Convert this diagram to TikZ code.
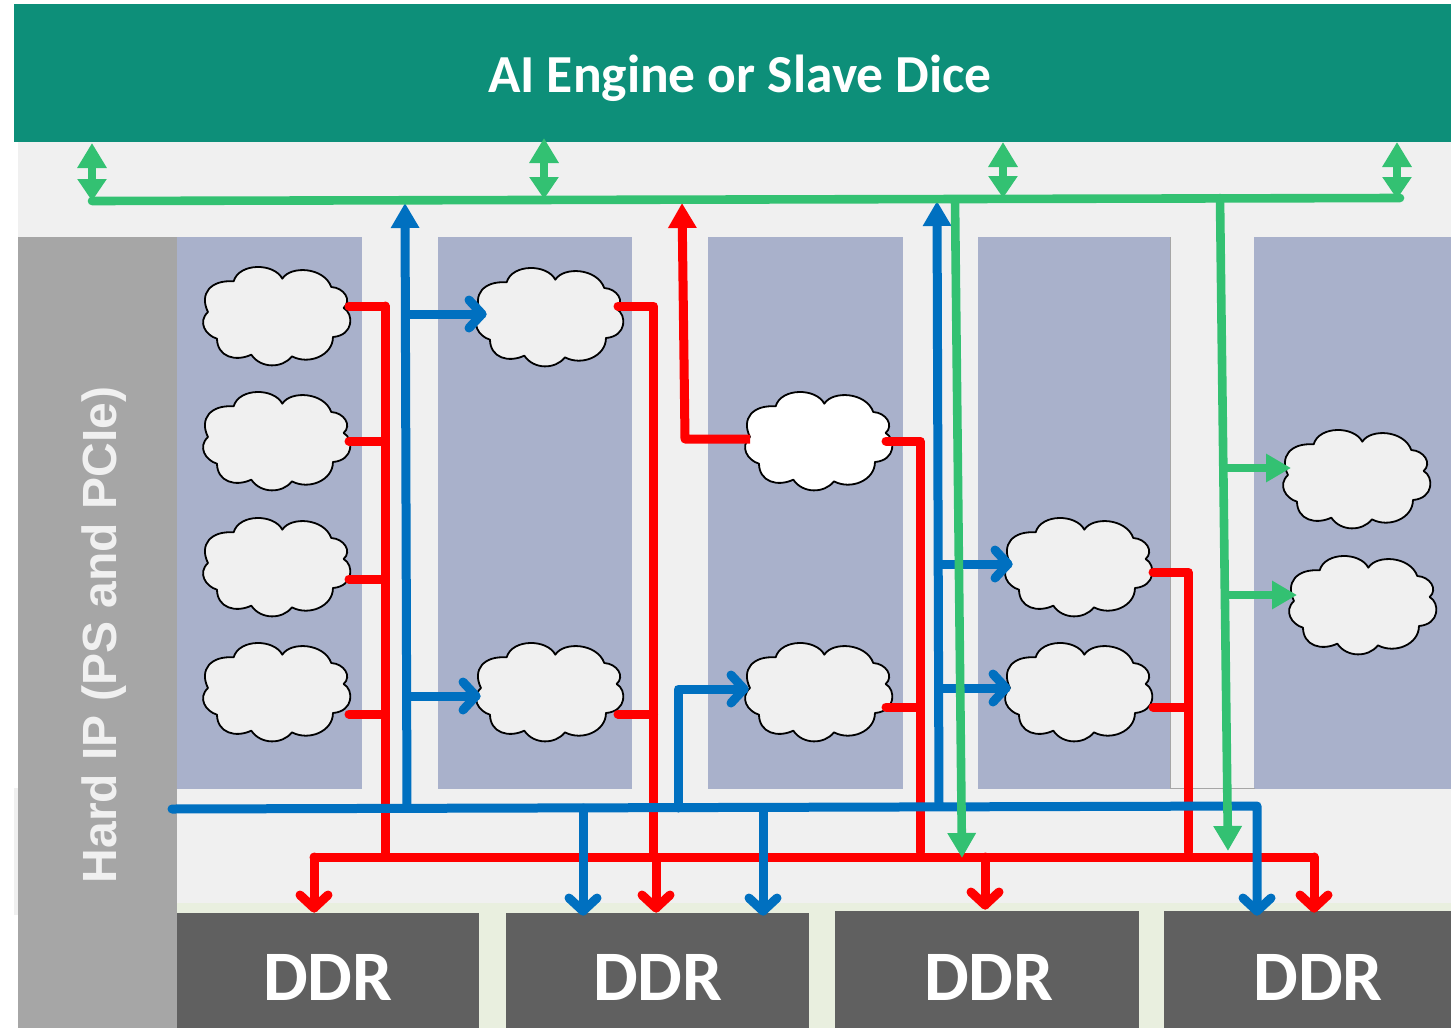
\documentclass[tikz,border=0pt]{standalone}
\usepackage{fontspec}
\setmainfont{Carlito}
\newfontfamily\hardfont{Liberation Sans}
\usetikzlibrary{arrows.meta}
\definecolor{cTeal}{HTML}{0D8F79}
\definecolor{cBg}{HTML}{F0F0F0}
\definecolor{cGray}{HTML}{A6A6A6}
\definecolor{cPanel}{HTML}{A9B1CB}
\definecolor{cDdr}{HTML}{606060}
\definecolor{cPale}{HTML}{E9EFDF}
\definecolor{cRed}{HTML}{FF0000}
\definecolor{cBlue}{HTML}{0070C0}
\definecolor{cGreen}{HTML}{33C172}
\tikzset{
  x=1pt,y=-1pt,
  wire/.style={line width=9pt,line cap=round,line join=round},
  redw/.style={wire,draw=cRed},
  bluew/.style={wire,draw=cBlue},
  greenw/.style={wire,line width=8.6pt,draw=cGreen},
  tri/.style={-{Triangle[length=25pt,width=27pt]}},
  dtri/.style={{Triangle[length=25pt,width=28pt]}-{Triangle[length=22pt,width=28pt]},line width=8pt,draw=cGreen},
  panel/.style={fill=cPanel,draw=none},
  ddrbox/.style={fill=cDdr,draw=none,inner sep=0pt},
  ddrtext/.style={text=white,font=\fontsize{71}{71}\selectfont\bfseries},
}
% open arrowhead: tip coordinate, direction, style
\newcommand{\chev}[3]{\draw[#3,shift={(#1)},rotate=#2] (-13,-14) -- (0,0) -- (-13,14);}
% name, left, top, fill
\newcommand{\cloudAt}[4]{%
  \begin{scope}[shift={(#2-0.7,#3)},scale=1/3]
    \draw[line width=1.8pt,fill=#4,line join=round]
      (94,43) .. controls (110,-13) and (215,-13) .. (240,35)
      .. controls (265,-5) and (365,0) .. (387,60)
      .. controls (425,62) and (450,100) .. (424,123)
      .. controls (455,140) and (455,205) .. (392,210)
      .. controls (392,265) and (320,295) .. (269,268)
      .. controls (240,305) and (175,305) .. (147,263)
      .. controls (100,285) and (45,270) .. (44,215)
      .. controls (10,205) and (-15,165) .. (17,135)
      .. controls (-10,80) and (25,38) .. (94,43) -- cycle;
  \end{scope}%
  \node[minimum width=148pt,minimum height=99pt,inner sep=0pt] (#1) at (#2+74,#3+49) {};%
}
\begin{document}
\begin{tikzpicture}
\useasboundingbox (0,0) rectangle (1451,1028);
\fill[white] (0,0) rectangle (1451,1028);
% backgrounds
\fill[cBg] (18,142) rectangle (1451,905);
\fill[cBg] (14,788) rectangle (18,915);
\fill[cPale] (177,903) rectangle (1451,1028);
\fill[cGray] (18,237) rectangle (177,1028);
\fill[panel] (177,237) rectangle (362,789);
\fill[panel] (438,237) rectangle (632,789);
\fill[panel] (708,237) rectangle (903,789);
\fill[panel] (978,237) rectangle (1170,789);
\fill[panel] (1254,237) rectangle (1451,789);
\draw[line width=1.2pt,draw=black!35] (1170.5,237) -- (1170.5,788.5) -- (1255,788.5);
% title and boxes
\node[fill=cTeal,inner sep=0pt,minimum width=1437pt,minimum height=138pt,anchor=north west] (top) at (14,4) {};
\node[text=white,font=\fontsize{53.5}{54}\selectfont\bfseries] (title) at (740,78) {AI Engine or Slave Dice};
\node[rotate=90,text=cBg,font=\hardfont\fontsize{48}{48}\selectfont\bfseries] (hard) at (104,635) {Hard IP (PS and PCIe)};
\node[ddrbox,minimum width=302pt,minimum height=115pt,anchor=north west] (d1) at (177,913) {};
\node[ddrbox,minimum width=303pt,minimum height=115pt,anchor=north west] (d2) at (506,913) {};
\node[ddrbox,minimum width=304pt,minimum height=117pt,anchor=north west] (d3) at (835,911) {};
\node[ddrbox,minimum width=287pt,minimum height=117pt,anchor=north west] (d4) at (1164,911) {};
\node[ddrtext] (t1) at (328,977) {DDR};
\node[ddrtext] (t2) at (658,977) {DDR};
\node[ddrtext] (t3) at (989,977) {DDR};
\node[ddrtext] (t4) at (1318,977) {DDR};
% clouds
\cloudAt{c11}{203}{267}{cBg}
\cloudAt{c12}{203}{392}{cBg}
\cloudAt{c13}{203}{518}{cBg}
\cloudAt{c14}{203}{643}{cBg}
\cloudAt{c21}{476}{268}{cBg}
\cloudAt{c22}{476}{643}{cBg}
\cloudAt{c31}{745}{392}{white}
\cloudAt{c32}{745}{643}{cBg}
\cloudAt{c41}{1005}{518}{cBg}
\cloudAt{c42}{1005}{643}{cBg}
\cloudAt{c51}{1283}{430}{cBg}
\cloudAt{c52}{1289}{556}{cBg}
% named connector points
\foreach \n/\x/\y in {
  r11/349/306,r12/349/441,r13/349/579,r14/349/714,
  j11/385/306,j12/385/441,j13/385/579,j14/385/714,j15/385/857,
  r21/618/306,r22/618/714,j21/653.5/306,j22/653.5/714,j23/653.5/857,j24/656/857,
  r31/886/441,r32/886/707,j31/920/441,j32/920/707,j33/920/852,
  r41/1153/572,r42/1153/707,j41/1188/572,j42/1188/707,j43/1188/852,
  bl/314/857,br/1314/857,bm/985/857,
  e1/314/908,e2/656/908,e3/985/905,e4/1314/908,
  r33/750/439,j34/685/439,up1/682/203,
  bb0/172/809,bb1/407/807,bb2/583/808,bb3/678/808,bb4/763/808,bb5/939/806,bb6/1257/806,
  ub1/405/203,ub2/937/201,
  b11/407/314,b12/407/696,p11/482/314,p12/476/696,
  b21/939/564,b22/939/688,p21/1008/564,p22/1006/688,
  p31/678/689,p32/744/689,
  eb1/583/911,eb2/763/911,eb3/1257/911,
  g0/92/201,g1/544/200,g2/955/200,g3/1003/199,g4/1220/198,g5/1400/198,
  g2e/962/858,g4e/1228/851,
  gb1/1227/468,gb2/1228/595,gp1/1291/468,gp2/1297/595,
  a0/92/143,a1/544/138,a2/1003/142,a3/1397/142,
  a0e/92/201,a1e/544/199,a2e/1003/198,a3e/1397/199}
  {\coordinate (\n) at (\x,\y);}
% red
\draw[redw] (j11) -- (j15);
\draw[redw] (r11) -- (j11);
\draw[redw] (r12) -- (j12);
\draw[redw] (r13) -- (j13);
\draw[redw] (r14) -- (j14);
\draw[redw] (bl) -- (e1); \chev{e1}{-90}{redw}
\draw[redw] (bl) -- (br);
\draw[redw] (br) -- (e4); \chev{e4}{-90}{redw}
\draw[redw] (bm) -- (e3); \chev{e3}{-90}{redw}
\draw[redw] (r21) -- (j21) -- (j23);
\draw[redw] (j24) -- (e2); \chev{e2}{-90}{redw}
\draw[redw] (r22) -- (j22);
\draw[redw] (r31) -- (j31) -- (j33);
\draw[redw] (r32) -- (j32);
\draw[redw] (r41) -- (j41) -- (j43);
\draw[redw] (r42) -- (j42);
\draw[redw,tri,line cap=butt] (r33) -- (j34) -- (up1);
% blue
\draw[bluew] (bb0) -- (bb6) -- (eb3); \chev{eb3}{-90}{bluew}
\draw[bluew,tri] (bb1) -- (ub1);
\draw[bluew,tri] (bb5) -- (ub2);
\draw[bluew] (b11) -- (p11); \chev{p11}{0}{bluew}
\draw[bluew] (b12) -- (p12); \chev{p12}{0}{bluew}
\draw[bluew] (b21) -- (p21); \chev{p21}{0}{bluew}
\draw[bluew] (b22) -- (p22); \chev{p22}{0}{bluew}
\draw[bluew] (bb2) -- (eb1); \chev{eb1}{-90}{bluew}
\draw[bluew] (bb4) -- (eb2); \chev{eb2}{-90}{bluew}
\draw[bluew] (bb3) -- (p31) -- (p32); \chev{p32}{0}{bluew}
% green
\draw[greenw] (g0) -- (g5);
\draw[dtri] (a0) -- (a0e);
\draw[dtri] (a1) -- (a1e);
\draw[dtri] (a2) -- (a2e);
\draw[dtri] (a3) -- (a3e);
\draw[greenw,tri] (g2) -- (g2e);
\draw[greenw,tri] (g4) -- (g4e);
\draw[greenw,tri] (gb1) -- (gp1);
\draw[greenw,tri] (gb2) -- (gp2);
\end{tikzpicture}
\end{document}
